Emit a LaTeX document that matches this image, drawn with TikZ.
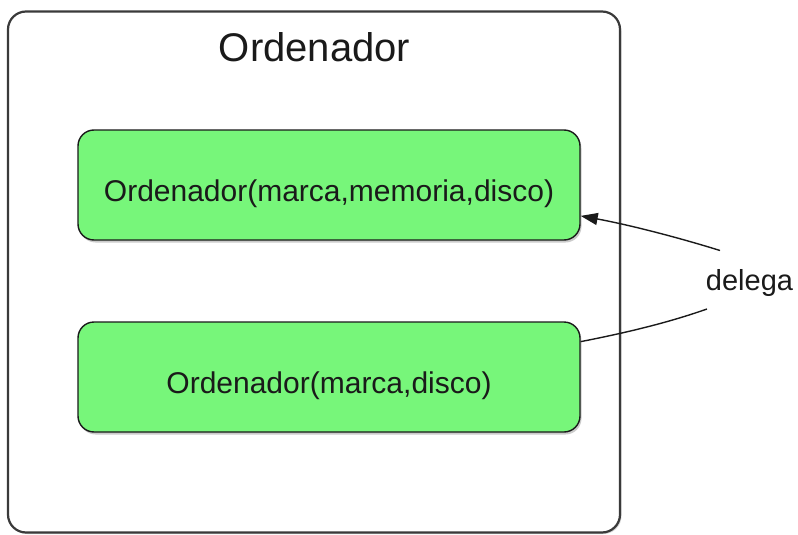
\documentclass[tikz,border=0pt]{standalone}
\usepackage{fontspec}
\setmainfont{Liberation Sans}
\usetikzlibrary{arrows.meta, shadows, positioning}
\definecolor{boxgreen}{RGB}{119, 246, 122}
\definecolor{ink}{RGB}{26, 26, 26}
\definecolor{frame}{RGB}{58, 58, 58}

\begin{document}
\begin{tikzpicture}[x=1pt, y=-1pt,
    every node/.style={text=ink},
    classbox/.style={draw=frame, line width=2.2pt, rounded corners=18pt, fill=white,
      minimum width=612pt, minimum height=521pt,
      drop shadow={shadow xshift=1.5pt, shadow yshift=-1.5pt, fill=black!35, opacity=0.5}},
    ctor/.style={draw=ink, line width=1.4pt, rounded corners=16pt, fill=boxgreen,
      minimum width=502pt, minimum height=110pt, text height=32pt, text depth=0pt,
      font=\fontsize{30}{36}\selectfont,
      drop shadow={shadow xshift=1.5pt, shadow yshift=-2.5pt, fill=black!40, opacity=0.5}},
    heading/.style={font=\fontsize{40}{48}\selectfont, anchor=base, inner sep=0pt},
    note/.style={font=\fontsize{29}{34}\selectfont, anchor=base, inner sep=0pt},
    link/.style={draw=ink, line width=1.4pt},
  ]
  \useasboundingbox (0,0) rectangle (798,535);

  % the class and its two constructors
  \node[classbox] (clase) at (314,272) {};
  \node[heading] (nombre) at (314.5,62) {Ordenador};
  \node[ctor] (full) at (329,185) {Ordenador(marca,memoria,disco)};
  \node[ctor] (corto) at (329,377) {Ordenador(marca,disco)};

  % delegation from the short constructor to the full one
  \node[note] (delega) at (749.5,290) {delega};
  \coordinate (arriba) at (720,250.5);
  \coordinate (abajo) at (707,309);
  \draw[link] (corto.8.4) .. controls (630,332) and (670,322) .. (abajo);
  \draw[link, -{Triangle[length=17pt, width=12pt]}]
    (arriba) .. controls (680,238) and (630,225) .. (full.-7.5);
\end{tikzpicture}
\end{document}
